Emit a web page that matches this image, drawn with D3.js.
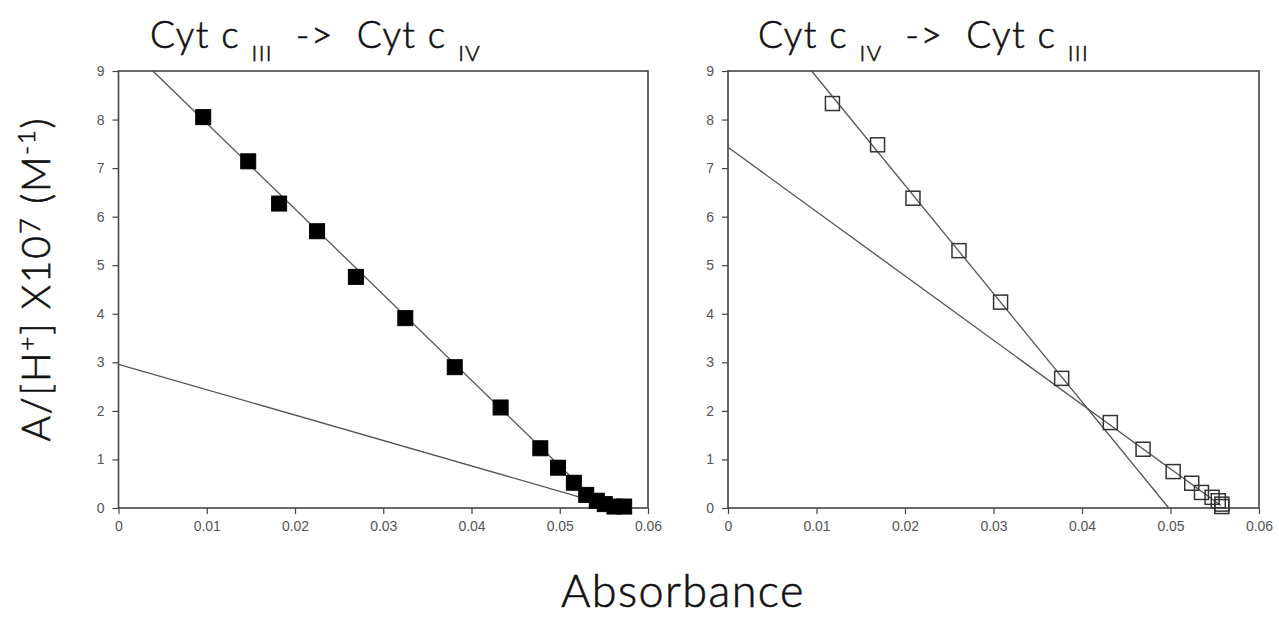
<!DOCTYPE html>
<html>
<head>
<meta charset="utf-8">
<script src="https://cdn.jsdelivr.net/npm/d3@7"></script>
<style>
  body { margin: 0; background: #fff; }
  svg text { white-space: pre; }
  .tick text { font-family: 'Liberation Sans Narrow', 'Liberation Sans', Arial, sans-serif; font-size: 14px; fill: #555; }
  .tick line { stroke: #444; stroke-width: 1.2; }
  .big { font-family: Lato, 'Noto Sans', sans-serif; font-weight: 300; fill: #111; stroke: #111; stroke-width: 0.6px; }
</style>
</head>
<body>
<svg id="canvas"></svg>
<script>
// axis ticks
const xTicks = [0, 0.01, 0.02, 0.03, 0.04, 0.05, 0.06]
const yTicks = [0, 1, 2, 3, 4, 5, 6, 7, 8, 9]

// Cyt c III -> Cyt c IV (filled squares)
const leftX = [0.0096, 0.0147, 0.0182, 0.0225, 0.0269, 0.0325, 0.0381, 0.0433, 0.0478, 0.0498, 0.0516, 0.0530, 0.0542, 0.0551, 0.0562, 0.0573]
const leftY = [8.05, 7.14, 6.27, 5.70, 4.76, 3.91, 2.90, 2.07, 1.23, 0.83, 0.52, 0.27, 0.15, 0.08, 0.03, 0.03]
// fitted lines (two end points each)
const leftSteepX = [0.0039, 0.0548]
const leftSteepY = [9, 0.02]
const leftFlatX = [0, 0.0560]
const leftFlatY = [2.96, 0.03]

// Cyt c IV -> Cyt c III (open squares)
const rightX = [0.0118, 0.0169, 0.0209, 0.0261, 0.0308, 0.0377, 0.0432, 0.0469, 0.0503, 0.0524, 0.0535, 0.0547, 0.0554, 0.0558, 0.0558]
const rightY = [8.33, 7.48, 6.38, 5.30, 4.24, 2.67, 1.76, 1.21, 0.75, 0.51, 0.32, 0.22, 0.15, 0.08, 0.03]
const rightSteepX = [0.00945, 0.0498]
const rightSteepY = [9, 0]
const rightFlatX = [0, 0.0557]
const rightFlatY = [7.43, 0.05]

const canvas = d3.select('#canvas').attr('width', 1279).attr('height', 620)

const toPoints = (xs, ys) => xs.map((x, i) => ({x, y: ys[i]}))

const drawPanel = (left, right, points, lines, filled, title) => {
  const top = 71
  const bottom = 508
  const xScale = d3.scaleLinear().domain([0, 0.06]).range([left, right])
  const yScale = d3.scaleLinear().domain([0, 9]).range([bottom, top])
  const g = canvas.append('g')

  g.append('g')
   .attr('transform', 'translate(0,' + bottom + ')')
   .call(d3.axisBottom(xScale).tickValues(xTicks).tickFormat(d => d === 0 ? '0' : d3.format('.2f')(d)).tickSize(6).tickSizeOuter(0).tickPadding(7))
   .call(a => a.select('.domain').remove())

  g.append('g')
   .attr('transform', 'translate(' + left + ',0)')
   .call(d3.axisLeft(yScale).tickValues(yTicks).tickSize(6).tickSizeOuter(0).tickPadding(8))
   .call(a => a.select('.domain').remove())

  // frame
  g.append('rect')
   .attr('x', left).attr('y', top)
   .attr('width', right - left).attr('height', bottom - top)
   .attr('fill', 'none').attr('stroke', '#444').attr('stroke-width', 1.6)

  const line = d3.line().x(d => xScale(d.x)).y(d => yScale(d.y))
  lines.forEach(l => {
    g.append('path').attr('d', line(l))
     .attr('fill', 'none').attr('stroke', '#555').attr('stroke-width', 1.3)
  })

  const size = filled ? 15 : 14
  g.selectAll('.pt')
   .data(points)
   .enter()
   .append('rect')
   .attr('class', 'pt')
   .attr('x', d => xScale(d.x) - size / 2)
   .attr('y', d => yScale(d.y) - size / 2)
   .attr('width', size)
   .attr('height', size)
   .attr('fill', filled ? '#000' : 'none')
   .attr('stroke', filled ? '#000' : '#333')
   .attr('stroke-width', filled ? 1 : 1.5)

  // title with subscripts
  const t = canvas.append('text').attr('class', 'big')
                  .attr('x', title.x).attr('y', 48)
                  .style('font-size', '37px').style('letter-spacing', '1.4px')
  t.append('tspan').text('Cyt c ')
  t.append('tspan').text(title.a).style('font-size', '22px').attr('dy', 13)
  t.append('tspan').text('  ->  Cyt c ').attr('dy', -13)
  t.append('tspan').text(title.b).style('font-size', '22px').attr('dy', 13)
}

drawPanel(118.5, 648, toPoints(leftX, leftY),
          [toPoints(leftSteepX, leftSteepY), toPoints(leftFlatX, leftFlatY)],
          true, {a: 'III', b: 'IV', x: 150})
drawPanel(728, 1259, toPoints(rightX, rightY),
          [toPoints(rightSteepX, rightSteepY), toPoints(rightFlatX, rightFlatY)],
          false, {a: 'IV', b: 'III', x: 758})

// y axis title
const yl = canvas.append('text').attr('class', 'big')
                 .attr('transform', 'translate(50,279) rotate(-90)')
                 .attr('text-anchor', 'middle').style('font-size', '39px').style('letter-spacing', '1.8px')
yl.append('tspan').text('A/[H')
yl.append('tspan').text('+').style('font-size', '24px').attr('dy', -15)
yl.append('tspan').text('] X10').attr('dy', 15)
yl.append('tspan').text('7').style('font-size', '28px').attr('dy', -10)
yl.append('tspan').text(' (M').attr('dy', 10)
yl.append('tspan').text('-1').style('font-size', '24px').attr('dy', -15)
yl.append('tspan').text(')').attr('dy', 15)

// x axis title
canvas.append('text').attr('class', 'big')
      .attr('x', 683).attr('y', 607)
      .attr('text-anchor', 'middle').style('font-size', '45px').style('letter-spacing', '1.4px')
      .text('Absorbance')
</script>
</body>
</html>
